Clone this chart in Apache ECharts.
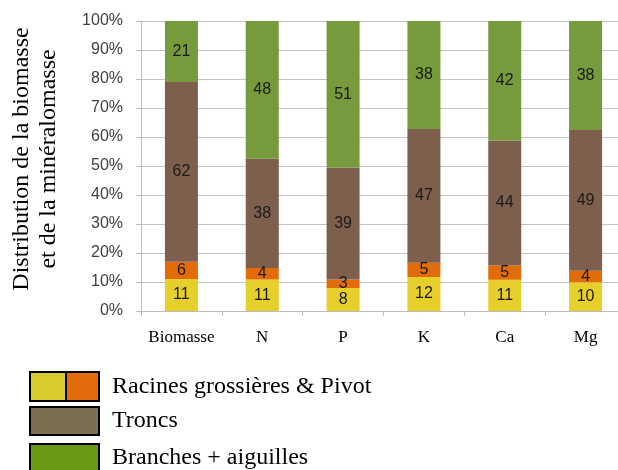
<!DOCTYPE html>
<html>
<head>
<meta charset="utf-8">
<script src="https://cdn.jsdelivr.net/npm/echarts@6/dist/echarts.min.js"></script>
<style>html,body{margin:0;padding:0;background:#fff}#c{width:618px;height:470px}</style>
</head>
<body>
<div id="c"></div>
<script>
const categories = ['Biomasse', 'N', 'P', 'K', 'Ca', 'Mg'];
const racinesGrossieres = [11, 11, 8, 12, 11, 10];
const pivot = [6, 4, 3, 5, 5, 4];
const troncs = [62, 38, 39, 47, 44, 49];
const branches = [21, 48, 51, 38, 42, 38];
const yTicks = [0, 10, 20, 30, 40, 50, 60, 70, 80, 90, 100];

const raw = [racinesGrossieres, pivot, troncs, branches];
const totals = categories.map((_, i) => raw.reduce((s, a) => s + a[i], 0));
const share = arr => arr.map((v, i) => v / totals[i] * 100);

const colors = ['#E6CF2A', '#E26B0A', '#7E5F4E', '#779A3C'];
const names = ['Racines grossières', 'Pivot', 'Troncs', 'Branches + aiguilles'];

const chart = echarts.init(document.getElementById('c'));
const serif = '"Liberation Serif", "DejaVu Serif", serif';
const sans = '"Liberation Sans", Arial, sans-serif';

chart.setOption({
  animation: false,
  grid: { left: 141, top: 21, width: 485, height: 290, containLabel: false, outerBoundsMode: 'none' },
  xAxis: {
    type: 'category',
    data: categories,
    axisLine: { lineStyle: { color: '#bdbdbd', width: 1 } },
    axisTick: { show: true, alignWithLabel: false, length: 5, lineStyle: { color: '#bdbdbd' } },
    axisLabel: { fontFamily: serif, fontSize: 17, color: '#000', margin: 18, interval: 0 }
  },
  yAxis: {
    type: 'value',
    min: 0, max: 100, interval: 10,
    axisLine: { show: true, lineStyle: { color: '#bdbdbd' } },
    axisTick: { show: true, length: 5, lineStyle: { color: '#bdbdbd' } },
    splitLine: { lineStyle: { color: '#c4c4c4' } },
    axisLabel: {
      fontFamily: sans, fontSize: 16, color: '#404040', margin: 18,
      formatter: v => (yTicks.includes(v) ? v + '%' : '')
    }
  },
  series: raw.map((arr, k) => ({
    name: names[k],
    type: 'bar',
    stack: 'total',
    barWidth: 33,
    itemStyle: { color: colors[k] },
    label: {
      show: true, position: 'inside', fontFamily: sans, fontSize: 16, color: '#1a1a1a',
      formatter: p => String(arr[p.dataIndex])
    },
    data: share(arr)
  })),
  graphic: [
    {
      type: 'text', x: 35, y: 159, rotation: Math.PI / 2,
      style: {
        text: 'Distribution de la biomasse\net de la minéralomasse',
        fontFamily: serif, fontSize: 24, lineHeight: 27, fill: '#000',
        textAlign: 'center', textVerticalAlign: 'middle'
      }
    },
    { type: 'rect', shape: { x: 30, y: 372, width: 36, height: 29 }, style: { fill: '#D8CB2E', stroke: '#000', lineWidth: 2 } },
    { type: 'rect', shape: { x: 66, y: 372, width: 33, height: 29 }, style: { fill: '#E36C0A', stroke: '#000', lineWidth: 2 } },
    { type: 'rect', shape: { x: 30, y: 407, width: 69, height: 28 }, style: { fill: '#7A7050', stroke: '#000', lineWidth: 2 } },
    { type: 'rect', shape: { x: 30, y: 444, width: 69, height: 30 }, style: { fill: '#6A9A14', stroke: '#000', lineWidth: 2 } },
    { type: 'text', x: 112, y: 387, style: { text: 'Racines grossières & Pivot', fontFamily: serif, fontSize: 24, fill: '#000', textVerticalAlign: 'middle' } },
    { type: 'text', x: 112, y: 421, style: { text: 'Troncs', fontFamily: serif, fontSize: 24, fill: '#000', textVerticalAlign: 'middle' } },
    { type: 'text', x: 112, y: 458, style: { text: 'Branches + aiguilles', fontFamily: serif, fontSize: 24, fill: '#000', textVerticalAlign: 'middle' } }
  ]
});
</script>
</body>
</html>
